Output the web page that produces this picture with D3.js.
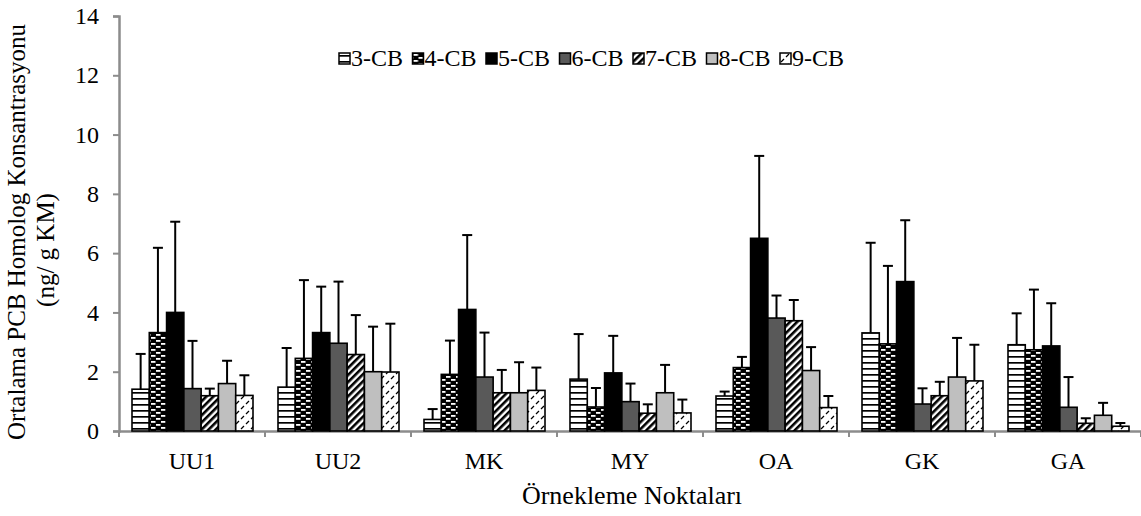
<!DOCTYPE html>
<html>
  <head>
    <meta charset="utf-8" />
    <script src="https://d3js.org/d3.v7.min.js"></script>
    <style>
        body { margin: 0; background: #fff; }
        text { font-family: "Liberation Serif", "Times New Roman", serif; fill: #000; }
    </style>
  </head>
  <body>
    <svg id="chart" width="1141" height="516"></svg>

    <script>
        // sampling points and homolog groups
        var categories = ["UU1", "UU2", "MK", "MY", "OA", "GK", "GA"];
        var series = ["3-CB", "4-CB", "5-CB", "6-CB", "7-CB", "8-CB", "9-CB"];
        var yTicks = [0, 2, 4, 6, 8, 10, 12, 14];

        // means per homolog, one value per sampling point
        var cb3 = [1.41, 1.48, 0.39, 1.75, 1.18, 3.31, 2.91];
        var cb4 = [3.32, 2.45, 1.91, 0.81, 2.14, 2.94, 2.74];
        var cb5 = [4.00, 3.32, 4.10, 1.96, 6.50, 5.04, 2.87];
        var cb6 = [1.43, 2.96, 1.82, 0.99, 3.81, 0.91, 0.80];
        var cb7 = [1.19, 2.58, 1.29, 0.60, 3.72, 1.19, 0.26];
        var cb8 = [1.60, 2.00, 1.29, 1.29, 2.04, 1.82, 0.53];
        var cb9 = [1.20, 1.99, 1.37, 0.61, 0.79, 1.69, 0.16];

        // standard deviations (upper error bars)
        var cb3Sd = [1.19, 1.32, 0.35, 1.52, 0.15, 3.04, 1.06];
        var cb4Sd = [2.86, 2.64, 1.14, 0.64, 0.36, 2.63, 2.03];
        var cb5Sd = [3.06, 1.55, 2.51, 1.25, 2.78, 2.07, 1.44];
        var cb6Sd = [1.61, 2.08, 1.50, 0.61, 0.76, 0.53, 1.02];
        var cb7Sd = [0.24, 1.33, 0.77, 0.30, 0.70, 0.47, 0.17];
        var cb8Sd = [0.77, 1.52, 1.03, 0.94, 0.79, 1.32, 0.42];
        var cb9Sd = [0.68, 1.63, 0.77, 0.45, 0.39, 1.22, 0.11];

        (function() {
        var means = [cb3, cb4, cb5, cb6, cb7, cb8, cb9];
        var sds = [cb3Sd, cb4Sd, cb5Sd, cb6Sd, cb7Sd, cb8Sd, cb9Sd];

        var rows = [];
        categories.forEach(function(c, ci) {
            series.forEach(function(s, si) {
                rows.push({cat: c, ser: s, si: si, v: means[si][ci], sd: sds[si][ci]});
            });
        });

        var svg = d3.select("#chart");
        var mLeft = 119, mRight = 1141, mTop = 16, mBottom = 431;

        var x = d3.scaleBand().domain(categories).range([mLeft, mRight]);
        var x1 = d3.scaleBand().domain(series).range([13, x.bandwidth() - 12]);
        var y = d3.scaleLinear().domain([0, 14]).range([mBottom, mTop]);

        // patterns
        var defs = svg.append("defs");

        var p3 = defs.append("pattern").attr("id", "p0").attr("patternUnits", "userSpaceOnUse")
            .attr("width", 8).attr("height", 6);
        p3.append("rect").attr("width", 8).attr("height", 6).attr("fill", "#fff");
        p3.append("rect").attr("y", 2).attr("width", 8).attr("height", 1.7).attr("fill", "#000");

        var p4 = defs.append("pattern").attr("id", "p1").attr("patternUnits", "userSpaceOnUse")
            .attr("width", 10).attr("height", 6);
        p4.append("rect").attr("width", 10).attr("height", 6).attr("fill", "#000");
        p4.append("rect").attr("x", 1).attr("y", 1).attr("width", 4.5).attr("height", 1.8).attr("fill", "#fff");
        p4.append("rect").attr("x", 6).attr("y", 4).attr("width", 4.5).attr("height", 1.8).attr("fill", "#fff");
        p4.append("rect").attr("x", -4).attr("y", 4).attr("width", 4.5).attr("height", 1.8).attr("fill", "#fff");

        var p7 = defs.append("pattern").attr("id", "p4").attr("patternUnits", "userSpaceOnUse")
            .attr("width", 5).attr("height", 5).attr("patternTransform", "rotate(45)");
        p7.append("rect").attr("width", 5).attr("height", 5).attr("fill", "#fff");
        p7.append("rect").attr("width", 2.6).attr("height", 5).attr("fill", "#000");

        var p9 = defs.append("pattern").attr("id", "p6").attr("patternUnits", "userSpaceOnUse")
            .attr("width", 10).attr("height", 10);
        p9.append("rect").attr("width", 10).attr("height", 10).attr("fill", "#fff");
        p9.append("line").attr("x1", 1).attr("y1", 9).attr("x2", 4).attr("y2", 6)
            .attr("stroke", "#000").attr("stroke-width", 1.3);
        p9.append("line").attr("x1", 6).attr("y1", 4).attr("x2", 9).attr("y2", 1)
            .attr("stroke", "#000").attr("stroke-width", 1.3);

        var fills = ["url(#p0)", "url(#p1)", "#000", "#595959", "url(#p4)", "#bfbfbf", "url(#p6)"];

        // axes
        var yAxis = svg.append("g")
            .attr("transform", "translate(" + mLeft + ",0)")
            .call(d3.axisLeft(y).tickValues(yTicks).tickSize(6).tickPadding(14));
        yAxis.selectAll("text").style("font-size", "24px");

        var xAxis = svg.append("g")
            .attr("transform", "translate(0," + mBottom + ")")
            .call(d3.axisBottom(x).tickSize(0).tickPadding(21));
        xAxis.selectAll("text").style("font-size", "24px");

        // category boundary ticks
        var bounds = categories.map(function(c) { return x(c); }).concat([mRight]);
        xAxis.selectAll(".bound").data(bounds).enter().append("line")
            .attr("class", "bound")
            .attr("x1", function(d) { return d; }).attr("x2", function(d) { return d; })
            .attr("y1", 0).attr("y2", 6);

        svg.selectAll(".domain, .tick line, .bound")
            .attr("stroke", "#8c8c8c").attr("stroke-width", 2);
        svg.selectAll(".domain").attr("stroke-width", 2.5);

        // bars
        svg.append("g").selectAll("rect").data(rows).enter().append("rect")
            .attr("x", function(d) { return x(d.cat) + x1(d.ser); })
            .attr("y", function(d) { return y(d.v); })
            .attr("width", x1.bandwidth())
            .attr("height", function(d) { return y(0) - y(d.v); })
            .attr("fill", function(d) { return fills[d.si]; })
            .attr("stroke", "#000").attr("stroke-width", 1.6);

        // error bars
        var eb = svg.append("g").attr("stroke", "#000").attr("stroke-width", 2);
        eb.selectAll(".v").data(rows).enter().append("line")
            .attr("x1", function(d) { return x(d.cat) + x1(d.ser) + x1.bandwidth() / 2; })
            .attr("x2", function(d) { return x(d.cat) + x1(d.ser) + x1.bandwidth() / 2; })
            .attr("y1", function(d) { return y(d.v); })
            .attr("y2", function(d) { return y(d.v + d.sd); });
        eb.selectAll(".c").data(rows).enter().append("line")
            .attr("x1", function(d) { return x(d.cat) + x1(d.ser) + x1.bandwidth() / 2 - 5; })
            .attr("x2", function(d) { return x(d.cat) + x1(d.ser) + x1.bandwidth() / 2 + 5; })
            .attr("y1", function(d) { return y(d.v + d.sd); })
            .attr("y2", function(d) { return y(d.v + d.sd); });

        // legend
        var legend = svg.append("g").selectAll("g").data(series).enter().append("g")
            .attr("transform", function(d, i) { return "translate(" + (339 + i * 73.5) + ",53)"; });
        legend.append("rect")
            .attr("width", 11).attr("height", 11)
            .attr("fill", function(d, i) { return fills[i]; })
            .attr("stroke", "#000").attr("stroke-width", 1.5);
        legend.append("text")
            .attr("x", 12).attr("y", 13)
            .style("font-size", "24px")
            .text(function(d) { return d; });

        // axis titles
        svg.append("text")
            .attr("x", 632).attr("y", 504)
            .attr("text-anchor", "middle")
            .style("font-size", "26px")
            .text("Örnekleme Noktaları");

        svg.append("text")
            .attr("transform", "translate(25,232) rotate(-90)")
            .attr("text-anchor", "middle")
            .style("font-size", "25px")
            .text("Ortalama PCB Homolog  Konsantrasyonu");
        svg.append("text")
            .attr("transform", "translate(54,250) rotate(-90)")
            .attr("text-anchor", "middle")
            .style("font-size", "25px")
            .text("(ng/ g KM)");
        })();
    </script>
  </body>
</html>
